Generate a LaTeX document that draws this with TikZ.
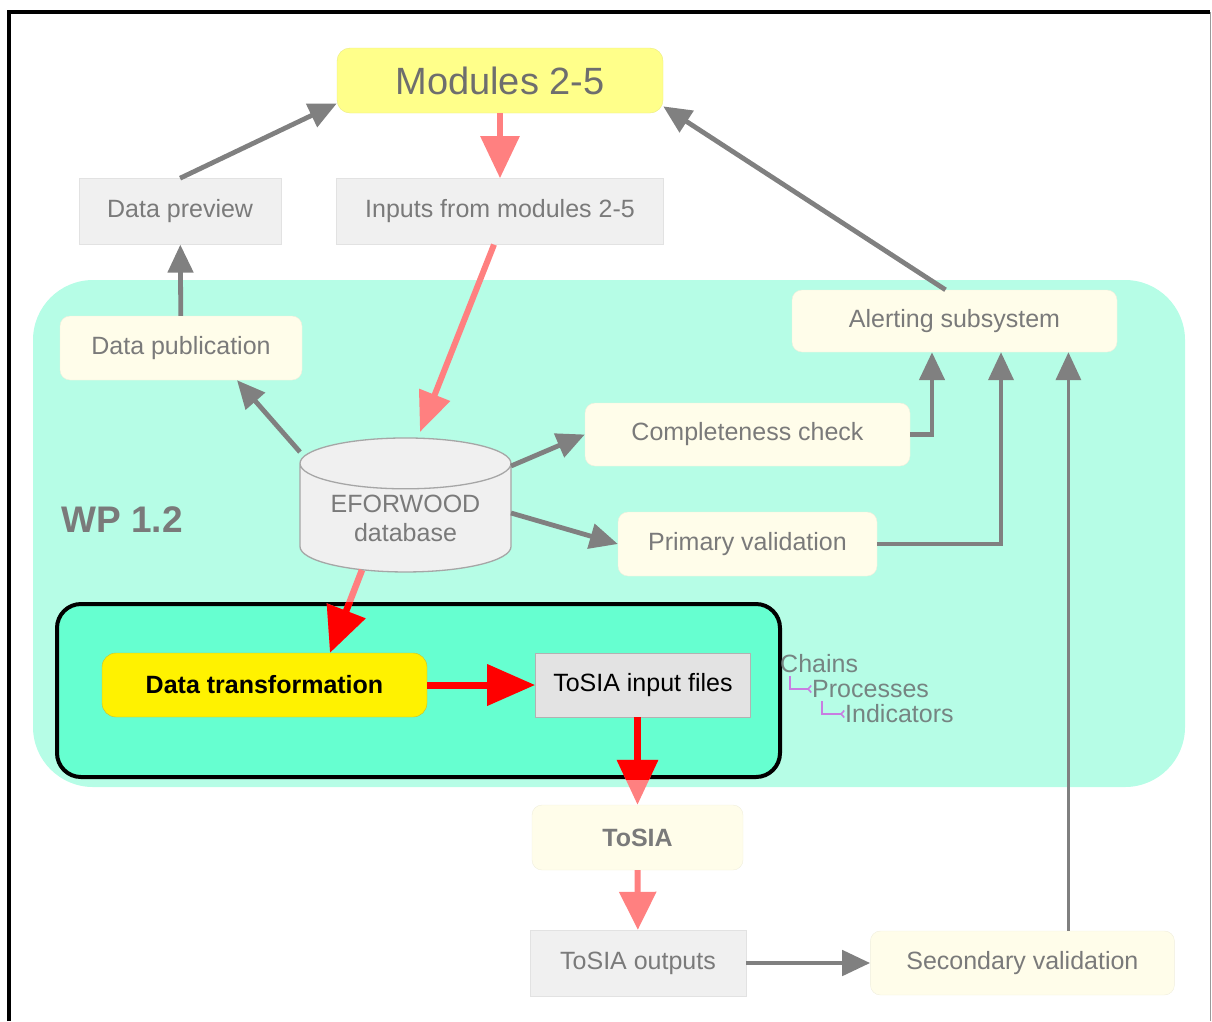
\documentclass[tikz,border=0pt]{standalone}
\usepackage{fontspec}
\setmainfont{Liberation Sans}
\usepackage{tikz}
\usetikzlibrary{shapes.geometric,arrows.meta,positioning}
\definecolor{txtgrey}{RGB}{122,122,122}
\definecolor{boxgrey}{RGB}{240,240,240}
\definecolor{cream}{RGB}{255,253,234}
\definecolor{mint}{RGB}{182,253,230}
\definecolor{brightmint}{RGB}{102,255,208}
\definecolor{softyellow}{RGB}{255,255,138}
\definecolor{arrowgrey}{RGB}{128,128,128}
\definecolor{pinkred}{RGB}{255,128,128}
\definecolor{lilac}{RGB}{200,125,225}
\definecolor{chaingrey}{RGB}{118,132,130}

\begin{document}
\begin{tikzpicture}[
  x=1pt, y=-1pt,
  lbl/.style = {font=\fontsize{25}{29}\selectfont, text=txtgrey},
  greybox/.style = {rectangle, fill=boxgrey, draw=boxgrey!94!black, lbl,
                    inner sep=0pt, minimum height=66pt},
  creambox/.style = {rectangle, rounded corners=10pt, fill=cream,
                     draw=cream!94!black, lbl, inner sep=0pt, minimum height=64pt},
  modbox/.style = {rectangle, rounded corners=13pt, fill=softyellow,
                   draw=softyellow!92!black, inner sep=0pt, text=black!57,
                   font=\fontsize{38}{44}\selectfont},
  dbcyl/.style = {cylinder, shape border rotate=90, aspect=0.34, draw=black!35,
                  line width=1.3pt, fill=boxgrey, lbl, align=center, inner sep=0pt,
                  minimum width=211pt, minimum height=134pt},
  focus/.style = {rectangle, rounded corners=24pt, draw=black, line width=4pt,
                  fill=brightmint, inner sep=0pt},
  chainlbl/.style = {font=\fontsize{25}{29}\selectfont, text=chaingrey,
                     inner sep=0pt, anchor=west},
  garrow/.style = {-{Triangle[length=28pt,width=25pt]}, line width=4.8pt, draw=arrowgrey},
  parrow/.style = {-{Triangle[length=42pt,width=38pt]}, line width=6pt, draw=pinkred},
  rarrow/.style = {-{Triangle[length=45pt,width=40pt]}, line width=6.5pt, draw=red},
  hook/.style = {draw=lilac, line width=1.6pt,
                 -{Straight Barb[reversed,length=3pt,width=7pt]}},
]
\useasboundingbox (0,0) rectangle (1212,1021);
% frame
\draw[line width=4pt] (9,1021) -- (9,12) -- (1210,12);
\draw[line width=1pt, black!40] (1210,12) -- (1210,1021);

% WP 1.2 area
\fill[mint, rounded corners=60pt] (33,280) rectangle (1185,787);
\node[font=\fontsize{37}{42}\selectfont\bfseries, text=txtgrey] (wp) at (122,520) {WP 1.2};
\node[focus, minimum width=723pt, minimum height=173pt] (focus) at (418.5,690.5) {};

% boxes
\node[modbox, minimum width=326pt, minimum height=65pt] (mod) at (500,80.5) {Modules 2-5};
\node[greybox, minimum width=327pt, below=65pt of mod] (inp) {Inputs from modules 2-5};
\node[greybox, minimum width=202pt, left=55pt of inp] (prev) {Data preview};
\node[creambox, minimum width=242pt] (pub) at (181,348) {Data publication};
\node[creambox, minimum width=325pt, minimum height=62pt] (alert) at (954.5,321) {Alerting subsystem};
\node[creambox, minimum width=325pt, minimum height=63pt] (comp) at (747.5,434.5) {Completeness check};
\node[creambox, minimum width=259pt] (prim) at (747.5,544) {Primary validation};
\node[dbcyl] (db) at (405.5,518) {EFORWOOD\\database};

\node[rectangle, rounded corners=14pt, fill=yellow, draw=yellow!75!black,
      minimum width=325pt, minimum height=64pt, inner sep=0pt,
      font=\fontsize{25}{29}\selectfont\bfseries] (trans) at (264.5,685) {Data transformation};
\node[rectangle, fill=black!11, draw=black!30, minimum width=215pt, minimum height=64pt,
      inner sep=0pt, font=\fontsize{25}{29}\selectfont, right=108pt of trans] (tin) {ToSIA input files};

\node[creambox, minimum width=211pt, minimum height=65pt,
      font=\fontsize{25}{29}\selectfont\bfseries] (tosia) at (637.5,837.5) {ToSIA};
\node[greybox, minimum width=216pt] (tout) at (638,963) {ToSIA outputs};
\node[creambox, minimum width=304pt, right=124pt of tout] (sec) {Secondary validation};

% chains / processes / indicators
\node[chainlbl] (chains) at (780,664) {Chains};
\node[chainlbl] (procs) at (812,689) {Processes};
\node[chainlbl] (inds) at (845,714) {Indicators};
\draw[hook] ([shift={(10,12)}]chains.west) |- (procs.west);
\draw[hook] ([shift={(10,12)}]procs.west) |- (inds.west);

% connectors
\draw[parrow] (mod) -- (inp);
\draw[garrow] (prev.north) -- (mod.188.5);
\draw[garrow] ([xshift=-9pt]alert.north) -- (mod.351.5);
\draw[garrow] (pub) -- (prev);
\draw[parrow, -{Triangle[length=40pt,width=32pt]}] ([xshift=-6pt]inp.south) -- ([shift={(14.5,-86)}]db.center);
\draw[garrow] ([shift={(-105.5,-66)}]db.center) -- ([xshift=56pt]pub.south);
\draw[garrow] ([shift={(105.5,-52)}]db.center) -- (comp.west);
\draw[garrow] ([shift={(105.5,-5)}]db.center) -- (prim.west);
\draw[garrow] (comp.east) -| ([xshift=-22.5pt]alert.south);
\draw[garrow, line width=4pt] (prim.east) -| ([xshift=46.5pt]alert.south);
\draw[garrow, line width=3.5pt] ([xshift=46pt]sec.north) -- ([xshift=46pt]sec.north |- alert.south);
\draw[garrow] (tout) -- (sec);
\draw[parrow, -{Triangle[length=38pt,width=36pt]}] (tosia) -- (tout);

% red arrows, faded outside the focus box
\draw[rarrow, pinkred] ([shift={(-43.5,52)}]db.center) -- ([xshift=65.5pt]trans.north);
\draw[rarrow, pinkred] (tosia.north |- tin.south) -- (tosia.north);
\begin{scope}
  \clip (focus.south west) rectangle (focus.north east);
  \draw[rarrow] ([shift={(-43.5,52)}]db.center) -- ([xshift=65.5pt]trans.north);
  \draw[rarrow] (tosia.north |- tin.south) -- (tosia.north);
\end{scope}
\draw[rarrow, line width=7pt, -{Triangle[length=48pt,width=40pt]}] (trans) -- (tin);
\end{tikzpicture}
\end{document}
